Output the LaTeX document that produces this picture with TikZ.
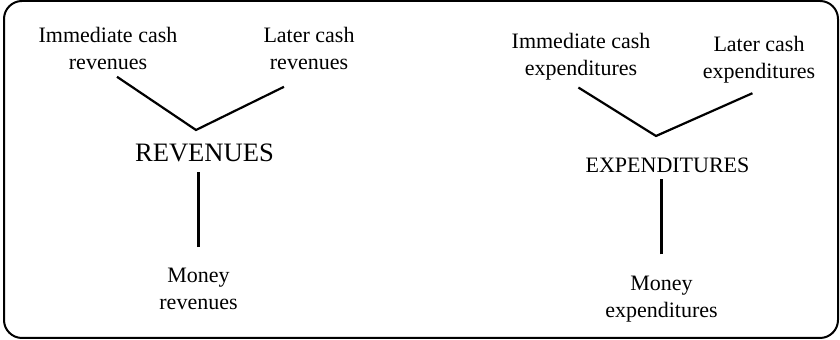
\documentclass[tikz,border=0pt]{standalone}
\usepackage{fontspec}
\setmainfont{Liberation Serif}
\usepackage{tikz}
\tikzstyle{term} = [align=center, font=\fontsize{11}{13.5}\selectfont]
\tikzstyle{head} = [font=\fontsize{11}{13.5}\selectfont]
\tikzstyle{link} = [line width=1.1pt]

\begin{document}
\begin{tikzpicture}[x=0.5pt, y=0.5pt]
			\useasboundingbox (0,0) rectangle (840,340);
			\draw[line width=1pt, rounded corners=9pt] (4,2) rectangle (838,339);
			\node[term] (ir) at (108, 291.5) {Immediate cash\\revenues};
			\node[term] (lr) at (309, 291.5) {Later cash\\revenues};
			\node[head, font=\fontsize{13.3}{16}\selectfont] (r) at (204.5, 187) {REVENUES};
			\node[term] (mr) at (198.5, 51) {Money\\revenues};
			\coordinate (rj) at (196, 210);
			\node[term] (ie) at (581, 283) {Immediate cash\\expenditures};
			\node[term] (le) at (759, 280.5) {Later cash\\expenditures};
			\node[head] (e) at (667.5, 175) {EXPENDITURES};
			\node[term] (me) at (661.5, 40.5) {Money\\expenditures};
			\coordinate (ej) at (656, 204);
			\draw[link] ([xshift=4.5pt]ir.south) -- (rj) -- ([xshift=-12.5pt, yshift=-5pt]lr.south);
			\draw[link, shorten <=7pt, shorten >=1.5pt] (mr.north) -- (mr.north |- r.south);
			\draw[link] ([xshift=-1.3pt]ie.south) -- (ej) -- ([xshift=-3.3pt, yshift=-1.6pt]le.south);
			\draw[link, shorten <=7.5pt] (me.north) -- (me.north |- e.south);
		\end{tikzpicture}
\end{document}
